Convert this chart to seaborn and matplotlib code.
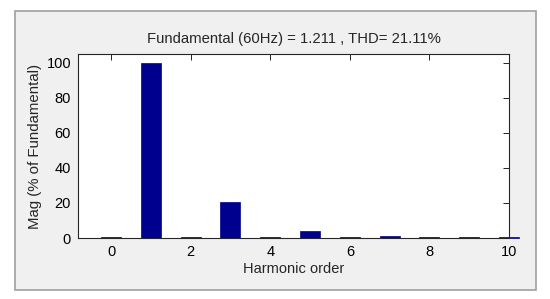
import numpy as np
import pandas as pd
import matplotlib
matplotlib.use("Agg")
import matplotlib.pyplot as plt
import seaborn as sns
from matplotlib.patches import Rectangle

# harmonic spectrum, % of fundamental
harmonic_order = [0, 1, 2, 3, 4, 5, 6, 7, 8, 9, 10]
magnitude = [0.3, 100, 0.3, 20.5, 0.3, 4.0, 0.3, 1.0, 0.3, 0.3, 0.4]
x_ticks = [0, 2, 4, 6, 8, 10]
y_ticks = [0, 20, 40, 60, 80, 100]
title = "Fundamental (60Hz) = 1.211 , THD= 21.11%"

sns.set_style("white")
plt.rcParams["font.family"] = ["Liberation Sans", "DejaVu Sans"]

df = pd.DataFrame({"order": harmonic_order, "mag": magnitude})

fig = plt.figure(figsize=(5.5, 2.99), dpi=100)
fig.patch.set_facecolor("white")

# grey matlab-like figure panel
panel = Rectangle((15 / 550, 1 - 290 / 299), (536 - 15) / 550, (290 - 11) / 299,
                  transform=fig.transFigure, facecolor="#f0f0f0",
                  edgecolor="#a0a0a0", linewidth=1.2, zorder=-5)
fig.patches.append(panel)

ax = fig.add_axes([78 / 550, 1 - 238 / 299, (509 - 78) / 550, (238 - 54) / 299])
ax.set_facecolor("white")
ax.set_zorder(1)

sns.barplot(data=df, x="order", y="mag", native_scale=True, width=0.5,
            color="#00008f", saturation=1, edgecolor="#00008f",
            linewidth=0.5, ax=ax)
for p in ax.patches:
    p.set_clip_on(False)

ax.set_xlim(-0.83, 10)
ax.set_ylim(0, 105)
ax.set_xticks(x_ticks)
ax.set_yticks(y_ticks)
ax.tick_params(direction="in", length=4, width=0.6, top=True, right=True,
               labelsize=10.5, colors="black", pad=5)
for s in ax.spines.values():
    s.set_visible(True)
    s.set_color("#262626")
    s.set_linewidth(0.8)
ax.set_xlabel("Harmonic order", fontsize=10.5, labelpad=2)
ax.set_ylabel("Mag (% of Fundamental)", fontsize=10.8, labelpad=3)
ax.set_title(title, fontsize=10.7, pad=8)

fig.savefig("out.png", dpi=100)
